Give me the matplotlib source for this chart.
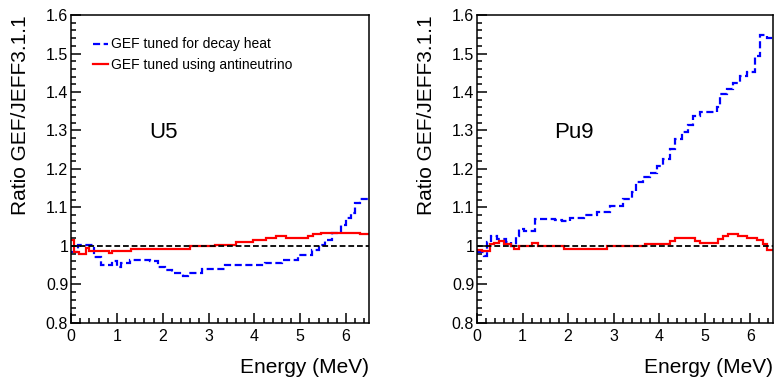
import matplotlib
matplotlib.use("Agg")
import matplotlib.pyplot as plt
from matplotlib.lines import Line2D
from matplotlib.ticker import MultipleLocator, FuncFormatter

plt.rcParams['font.family'] = ['Liberation Sans', 'DejaVu Sans']

# U5 histograms (bin edges in MeV, ratio values)
u5_heat_edges = [0, 0.15, 0.5, 0.65, 0.9, 1.0, 1.1, 1.28, 1.72, 1.9, 2.05, 2.2, 2.45,
                 2.55, 2.85, 3.36, 4.23, 4.6, 4.95, 5.25, 5.4, 5.55, 5.7, 5.9, 6.0,
                 6.1, 6.2, 6.3, 6.5]
u5_heat = [0.985, 1.003, 0.972, 0.95, 0.96, 0.946, 0.957, 0.964, 0.96, 0.946, 0.938,
           0.93, 0.922, 0.93, 0.94, 0.95, 0.955, 0.964, 0.977, 0.99, 1.003, 1.016,
           1.034, 1.055, 1.073, 1.086, 1.112, 1.122]

u5_anu_edges = [0, 0.07, 0.17, 0.32, 0.4, 0.83, 0.9, 1.3, 2.6, 3.14, 3.6, 3.96, 4.25,
                4.47, 4.69, 5.16, 5.27, 5.45, 6.3, 6.5]
u5_anu = [1.015, 0.985, 0.98, 0.995, 0.987, 0.982, 0.987, 0.992, 1.0, 1.003, 1.01,
          1.016, 1.02, 1.026, 1.02, 1.026, 1.031, 1.035, 1.03]

# Pu9 histograms
pu9_heat_edges = [0, 0.15, 0.22, 0.3, 0.45, 0.63, 0.74, 0.85, 0.92, 1.03, 1.28, 1.72,
                  1.86, 2.05, 2.35, 2.64, 2.92, 3.21, 3.4, 3.5, 3.65, 3.8, 3.95, 4.09,
                  4.24, 4.35, 4.5, 4.64, 4.75, 4.9, 5.26, 5.34, 5.48, 5.63, 5.77, 5.92,
                  6.1, 6.21, 6.36, 6.5]
pu9_heat = [0.984, 0.975, 1.01, 1.027, 1.018, 1.01, 1.0, 1.025, 1.045, 1.04, 1.071,
            1.068, 1.064, 1.072, 1.08, 1.089, 1.105, 1.121, 1.139, 1.165, 1.178, 1.19,
            1.208, 1.225, 1.251, 1.277, 1.295, 1.313, 1.338, 1.348, 1.36, 1.394, 1.407,
            1.423, 1.442, 1.453, 1.494, 1.548, 1.541]

pu9_anu_edges = [0, 0.11, 0.29, 0.37, 0.48, 0.59, 0.74, 0.81, 0.92, 1.2, 1.35, 1.9,
                 2.85, 3.7, 4.24, 4.35, 4.79, 4.9, 5.3, 5.4, 5.52, 5.74, 5.92, 6.14,
                 6.29, 6.36, 6.5]
pu9_anu = [0.99, 0.987, 1.004, 1.009, 1.013, 1.004, 1.0, 0.993, 1.0, 1.007, 1.0, 0.993,
           1.0, 1.006, 1.012, 1.02, 1.013, 1.008, 1.017, 1.026, 1.03, 1.026, 1.022,
           1.015, 1.004, 0.99]

labels = ['GEF tuned for decay heat', 'GEF tuned using antineutrino']
panels = ['U5', 'Pu9']

fig = plt.figure(figsize=(7.77, 3.80), dpi=100)
ax1 = fig.add_axes([71/777, 57/380, 298/777, 308/380])
ax2 = fig.add_axes([477/777, 57/380, 296/777, 308/380])

dash = (3.2, 1.6)
lw = 1.6
data = [(u5_heat_edges, u5_heat, u5_anu_edges, u5_anu),
        (pu9_heat_edges, pu9_heat, pu9_anu_edges, pu9_anu)]

for ax, name, (he, hv, ae, av), ylx in zip([ax1, ax2], panels, data, [-0.171, -0.169]):
    ax.stairs(hv, he, baseline=None, color='#0000ff', lw=lw, ls=(0, dash))
    ax.stairs(av, ae, baseline=None, color='#ff0000', lw=lw)
    ax.axhline(1.0, color='black', lw=1.3, ls=(0, dash))

    ax.set_xlim(0, 6.5)
    ax.set_ylim(0.8, 1.6)
    ax.xaxis.set_major_locator(MultipleLocator(1))
    ax.xaxis.set_minor_locator(MultipleLocator(0.2))
    ax.yaxis.set_major_locator(MultipleLocator(0.1))
    ax.yaxis.set_minor_locator(MultipleLocator(0.02))
    ax.yaxis.set_major_formatter(FuncFormatter(lambda v, p: f'{v:g}'))
    ax.tick_params(which='both', direction='in', top=False, right=False,
                   labelsize=11.5, width=1.1)
    ax.tick_params(which='major', length=7)
    ax.tick_params(which='minor', length=3.5)
    ax.tick_params(axis='y', pad=2)
    ax.tick_params(axis='x', pad=4)
    for s in ax.spines.values():
        s.set_linewidth(1.1)

    ax.set_ylabel('Ratio GEF/JEFF3.1.1', fontsize=15, ha='right')
    ax.yaxis.set_label_coords(ylx, 1.0)
    ax.yaxis.label.set_va('center')
    ax.set_xlabel('Energy (MeV)', fontsize=15, ha='right')
    ax.xaxis.set_label_coords(1.0, -0.143)
    ax.xaxis.label.set_va('center')

    ax.text(1.7, 1.296, name, fontsize=16, ha='left', va='center')

handles = [Line2D([], [], color='#0000ff', lw=lw, ls=(0, dash)),
           Line2D([], [], color='#ff0000', lw=lw)]
ax1.legend(handles, labels, loc='upper left', bbox_to_anchor=(0.055, 0.945),
           frameon=False, fontsize=10, handlelength=1.1, handletextpad=0.2,
           labelspacing=0.45, borderaxespad=0)

fig.savefig('out.png', dpi=100)
